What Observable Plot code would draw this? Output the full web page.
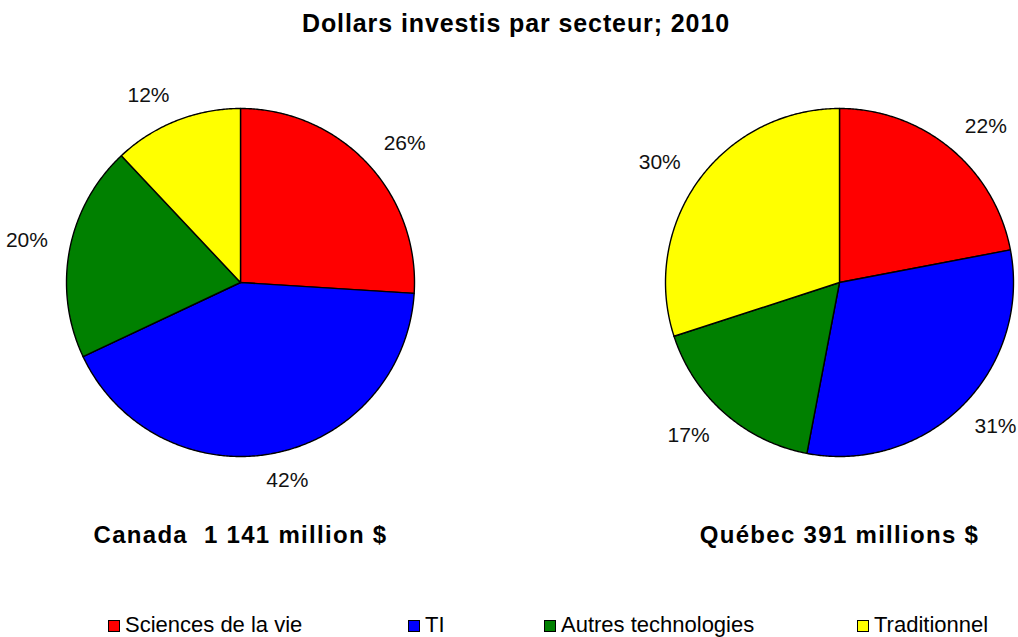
<!DOCTYPE html>
<html>
<head>
<meta charset="utf-8">
<script src="https://cdn.jsdelivr.net/npm/d3@7"></script>
<script src="https://cdn.jsdelivr.net/npm/@observablehq/plot@0.6"></script>
<style>
  html, body { margin: 0; padding: 0; background: #fff; overflow: hidden; }
  body { width: 1018px; height: 637px; font-family: "Liberation Sans", Arial, sans-serif; }
  #title { height: 47px; line-height: 47px; text-align: center; font-weight: bold; font-size: 25px; letter-spacing: 0.9px; color: #000; padding-left: 14px; box-sizing: border-box; }
  #chart svg { display: block; }
  #legend { position: relative; height: 35px; }
  .item { position: absolute; top: 0; }
  .sw { position: absolute; top: 18px; left: 0; width: 10px; height: 10px; border: 1.5px solid #000; }
  .lt { position: absolute; top: 12px; left: 17px; font-size: 22px; line-height: 22px; white-space: nowrap; color: #000; }
</style>
</head>
<body>
<div id="title">Dollars investis par secteur; 2010</div>
<div id="chart"></div>
<div id="legend"></div>
<script>
// ---- data ----
const sectors = ["Sciences de la vie", "TI", "Autres technologies", "Traditionnel"];
const regions = ["Canada", "Québec"];
const captions = ["Canada  1 141 million $", "Québec 391 millions $"];
const canadaShares = [26, 42, 20, 12];
const quebecShares = [22, 31, 17, 30];

// ---- style / layout ----
const palette = ["#ff0000", "#0000ff", "#008000", "#ffff00"];
const W = 1018, H = 555, R = 174;          // radius in px
const pieCenterPx = [240, 839];            // pie centres (px)
const pieCenterYPx = 235;
const legendLeft = [108, 408, 544, 857];
// label placement (outside end, Excel-like): distance + half box offsets, in radius units
const labelDist = 195 / R, labelHalfW = 22 / R, labelShiftY = 6 / R;

const shares = [canadaShares, quebecShares];
const offsets = pieCenterPx.map(px => (px - pieCenterPx[0]) / R);
const xDomain = [-pieCenterPx[0] / R, (W - pieCenterPx[0]) / R];
const yDomain = [-(H - pieCenterYPx) / R, pieCenterYPx / R];

const slices = [];
const labels = [];
regions.forEach((reg, ri) => {
  const vals = shares[ri];
  const total = d3.sum(vals);
  let acc = 0;
  vals.forEach((v, si) => {
    const a0 = acc / total * 2 * Math.PI;
    acc += v;
    const a1 = acc / total * 2 * Math.PI;
    const key = reg + "-" + si;
    const cx = offsets[ri];
    slices.push({key, sector: sectors[si], x: cx, y: 0});
    const n = Math.max(2, Math.ceil((a1 - a0) / (Math.PI / 360)));
    for (let k = 0; k <= n; k++) {
      const a = a0 + (a1 - a0) * k / n;
      slices.push({key, sector: sectors[si], x: cx + Math.sin(a), y: Math.cos(a)});
    }
    const am = (a0 + a1) / 2;
    const ux = Math.sin(am), uy = Math.cos(am);
    let lx = cx + labelDist * ux + labelHalfW * Math.sign(ux) * Math.min(1, Math.abs(ux) * 2.5);
    // keep the label box inside the frame
    lx = Math.max(xDomain[0] + (labelHalfW + 1 / R), Math.min(xDomain[1] - (labelHalfW + 1 / R), lx));
    labels.push({x: lx, y: labelDist * uy + labelShiftY * Math.sign(uy), text: v + "%"});
  });
});
const captionData = regions.map((r, i) => ({x: offsets[i], y: -(488 - pieCenterYPx) / R, text: captions[i]}));

const chart = Plot.plot({
  width: W,
  height: H,
  margin: 0,
  x: {domain: xDomain, axis: null},
  y: {domain: yDomain, axis: null},
  color: {domain: sectors, range: palette},
  style: {fontFamily: "'Liberation Sans', Arial, sans-serif", background: "#fff"},
  marks: [
    Plot.line(slices, {x: "x", y: "y", z: "key", fill: "sector", stroke: "#000", strokeWidth: 1.4, curve: "linear-closed", strokeLinejoin: "round"}),
    Plot.text(labels, {x: "x", y: "y", text: "text", fontSize: 21, fill: "#111"}),
    Plot.text(captionData, {x: "x", y: "y", text: "text", fontSize: 24, fontWeight: "bold", fill: "#000"})
  ]
});
document.getElementById("chart").appendChild(chart);
chart.querySelectorAll("text").forEach(t => {
  if (t.getAttribute("font-weight") === "bold" || (t.parentNode && t.parentNode.getAttribute && t.parentNode.getAttribute("font-weight") === "bold")) {
    t.style.whiteSpace = "pre";
    t.style.letterSpacing = "1.3px";
  }
});

const legend = document.getElementById("legend");
sectors.forEach((s, i) => {
  const it = document.createElement("div");
  it.className = "item";
  it.style.left = legendLeft[i] + "px";
  const sw = document.createElement("div");
  sw.className = "sw";
  sw.style.background = palette[i];
  const lt = document.createElement("div");
  lt.className = "lt";
  lt.textContent = s;
  it.appendChild(sw);
  it.appendChild(lt);
  legend.appendChild(it);
});
</script>
</body>
</html>
